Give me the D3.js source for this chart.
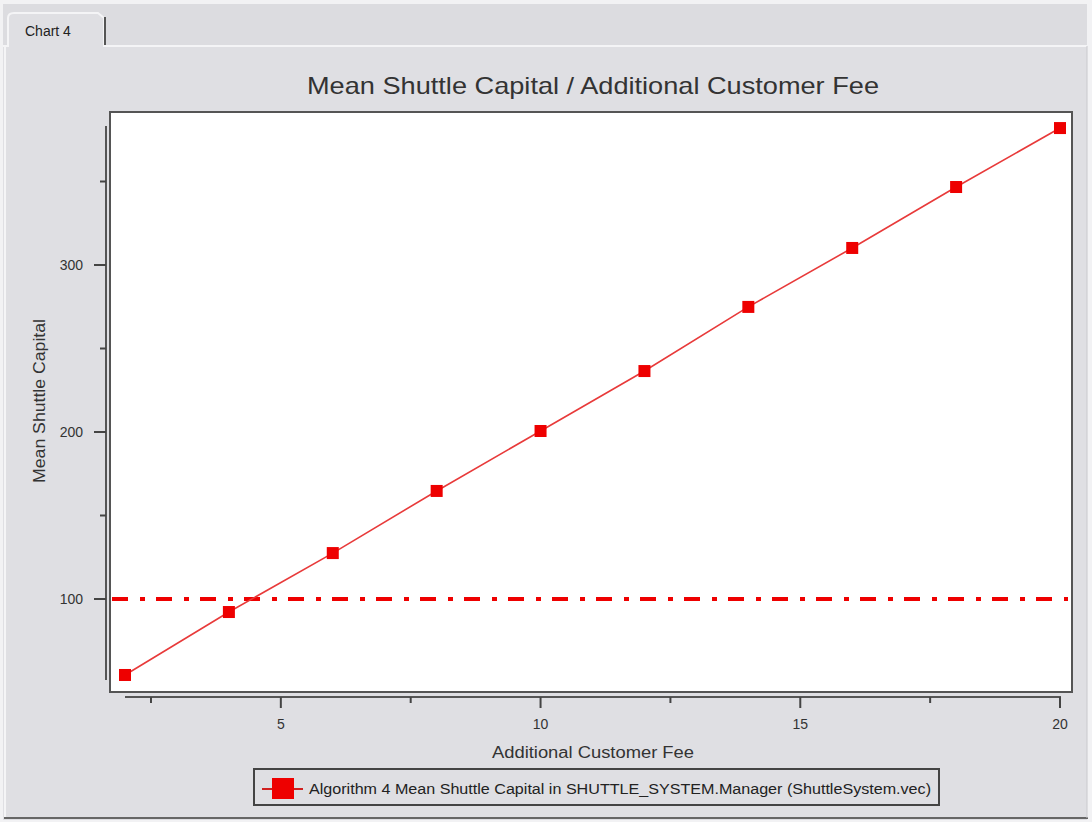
<!DOCTYPE html>
<html><head><meta charset="utf-8">
<script src="https://cdn.jsdelivr.net/npm/d3@7"></script>
<style>
html,body{margin:0;padding:0;background:#ffffff;}
svg{display:block;font-family:"Liberation Sans",Arial,sans-serif;}
</style></head>
<body>
<svg id="c" width="1092" height="822"></svg>
<script>
const xValues = [2, 4, 6, 8, 10, 12, 14, 16, 18, 20];
const yValues = [54.5, 92.2, 127.5, 164.7, 200.6, 236.5, 274.9, 310.2, 346.7, 382];
const xMajorTicks = [5, 10, 15, 20];
const xMinorTicks = [2.5, 7.5, 12.5, 17.5];
const yMajorTicks = [100, 200, 300];
const yMinorTicks = [150, 250, 350];
const thresholdValue = [100];
const titleText = "Mean Shuttle Capital / Additional Customer Fee";
const xLabel = "Additional Customer Fee";
const yLabel = "Mean Shuttle Capital";
const legendText = "Algorithm 4 Mean Shuttle Capital in SHUTTLE_SYSTEM.Manager (ShuttleSystem.vec)";
const tabText = "Chart 4";

const svg = d3.select("#c");
const bg = "#dfdfe3";
const red = "#ee0000";

// window / panel
svg.append("rect").attr("x",0).attr("y",0).attr("width",1092).attr("height",822).attr("fill","#f2f2f4");
svg.append("rect").attr("x",3).attr("y",4).attr("width",1084).attr("height",816).attr("fill",bg);
svg.append("rect").attr("x",3).attr("y",4).attr("width",1084).attr("height",42).attr("fill","#dcdce0");
svg.append("line").attr("x1",3).attr("x2",1087).attr("y1",46).attr("y2",46).attr("stroke","#f4f4f6").attr("stroke-width",2);
// tab
svg.append("path").attr("d","M8,46 L8,18 Q8,13 14,13 L98,13 L104,18 L104,46").attr("fill",bg).attr("stroke","#f4f4f6").attr("stroke-width",2);
svg.append("line").attr("x1",105).attr("x2",105).attr("y1",17).attr("y2",45).attr("stroke","#555").attr("stroke-width",2);
svg.append("rect").attr("x",9).attr("y",44).attr("width",94).attr("height",4).attr("fill",bg);
svg.append("text").attr("x",25).attr("y",36).attr("font-size",14).attr("fill","#222").text(tabText);
// panel borders
svg.append("line").attr("x1",5).attr("x2",5).attr("y1",46).attr("y2",818).attr("stroke","#f4f4f6").attr("stroke-width",2);
svg.append("line").attr("x1",4).attr("x2",1088).attr("y1",818).attr("y2",818).attr("stroke","#666").attr("stroke-width",2);
svg.append("line").attr("x1",1087).attr("x2",1087).attr("y1",46).attr("y2",818).attr("stroke","#c8c8cc").attr("stroke-width",1);

// scales
const x = d3.scaleLinear().domain([2, 20]).range([125, 1060]);
const y = d3.scaleLinear().domain([100, 300]).range([599, 265]);

// plot area
const plotL = 110, plotR = 1072, plotT = 112, plotB = 692;
svg.append("rect").attr("x",plotL).attr("y",plotT).attr("width",plotR-plotL).attr("height",plotB-plotT)
  .attr("fill","#ffffff").attr("stroke","#555").attr("stroke-width",2);

// title
svg.append("text").attr("x",593).attr("y",94).attr("text-anchor","middle").attr("font-size",24).attr("fill","#333")
  .attr("textLength",572).attr("lengthAdjust","spacingAndGlyphs").text(titleText);

// y axis (separate line)
const yAxisX = 106;
const yAx = svg.append("g");
yAx.append("line").attr("x1",yAxisX).attr("x2",yAxisX).attr("y1",y(d3.min(yValues))+5).attr("y2",y(d3.max(yValues))-2).attr("stroke","#555").attr("stroke-width",2);
yAx.selectAll(".ymaj").data(yMajorTicks).join("line").attr("x1",yAxisX-12).attr("x2",yAxisX).attr("y1",d=>y(d)).attr("y2",d=>y(d)).attr("stroke","#444").attr("stroke-width",2);
yAx.selectAll(".ymin").data(yMinorTicks).join("line").attr("x1",yAxisX-6).attr("x2",yAxisX).attr("y1",d=>y(d)).attr("y2",d=>y(d)).attr("stroke","#444").attr("stroke-width",2);
yAx.selectAll(".ylab").data(yMajorTicks).join("text").attr("x",83).attr("y",d=>y(d)+5).attr("text-anchor","end").attr("font-size",14).attr("fill","#333").text(d=>d);
svg.append("text").attr("transform","translate(45,401) rotate(-90)").attr("text-anchor","middle").attr("font-size",16).attr("fill","#333")
  .attr("textLength",164).attr("lengthAdjust","spacingAndGlyphs").text(yLabel);

// x axis (separate line)
const xAxisY = 697;
const xAx = svg.append("g");
xAx.append("line").attr("x1",x(2)).attr("x2",x(20)+1).attr("y1",xAxisY).attr("y2",xAxisY).attr("stroke","#555").attr("stroke-width",2);
xAx.selectAll(".xmaj").data(xMajorTicks).join("line").attr("x1",d=>x(d)).attr("x2",d=>x(d)).attr("y1",xAxisY).attr("y2",xAxisY+11).attr("stroke","#444").attr("stroke-width",2);
xAx.selectAll(".xmin").data(xMinorTicks).join("line").attr("x1",d=>x(d)).attr("x2",d=>x(d)).attr("y1",xAxisY).attr("y2",xAxisY+6).attr("stroke","#444").attr("stroke-width",2);
xAx.selectAll(".xlab").data(xMajorTicks).join("text").attr("x",d=>x(d)).attr("y",729).attr("text-anchor","middle").attr("font-size",14).attr("fill","#333").text(d=>d);
svg.append("text").attr("x",593).attr("y",758).attr("text-anchor","middle").attr("font-size",16).attr("fill","#333")
  .attr("textLength",202).attr("lengthAdjust","spacingAndGlyphs").text(xLabel);

// threshold dash-dot line
svg.selectAll(".thr").data(thresholdValue).join("line")
  .attr("x1",plotL+2).attr("x2",plotR-4).attr("y1",d=>y(d)).attr("y2",d=>y(d))
  .attr("stroke",red).attr("stroke-width",4).attr("stroke-dasharray","16,12,5,11");

// series line
const pts = xValues.map((v,i)=>[v, yValues[i]]);
svg.append("path").datum(pts).attr("fill","none").attr("stroke","#e83a3a").attr("stroke-width",1.6)
  .attr("d", d3.line().x(d=>x(d[0])).y(d=>y(d[1])));
const ms = 12;
svg.selectAll(".pt").data(pts).join("rect")
  .attr("x",d=>x(d[0])-ms/2).attr("y",d=>y(d[1])-ms/2).attr("width",ms).attr("height",ms).attr("fill",red);

// legend
const lg = svg.append("g");
lg.append("rect").attr("x",254).attr("y",769).attr("width",685).attr("height",36).attr("fill",bg).attr("stroke","#444").attr("stroke-width",2);
lg.append("line").attr("x1",262).attr("x2",303).attr("y1",789).attr("y2",789).attr("stroke","#d02020").attr("stroke-width",2);
lg.append("rect").attr("x",272).attr("y",778).attr("width",22).attr("height",21).attr("fill",red);
lg.append("text").attr("x",309).attr("y",794).attr("font-size",14).attr("fill","#222")
  .attr("textLength",622).attr("lengthAdjust","spacingAndGlyphs").text(legendText);
</script>
</body></html>
